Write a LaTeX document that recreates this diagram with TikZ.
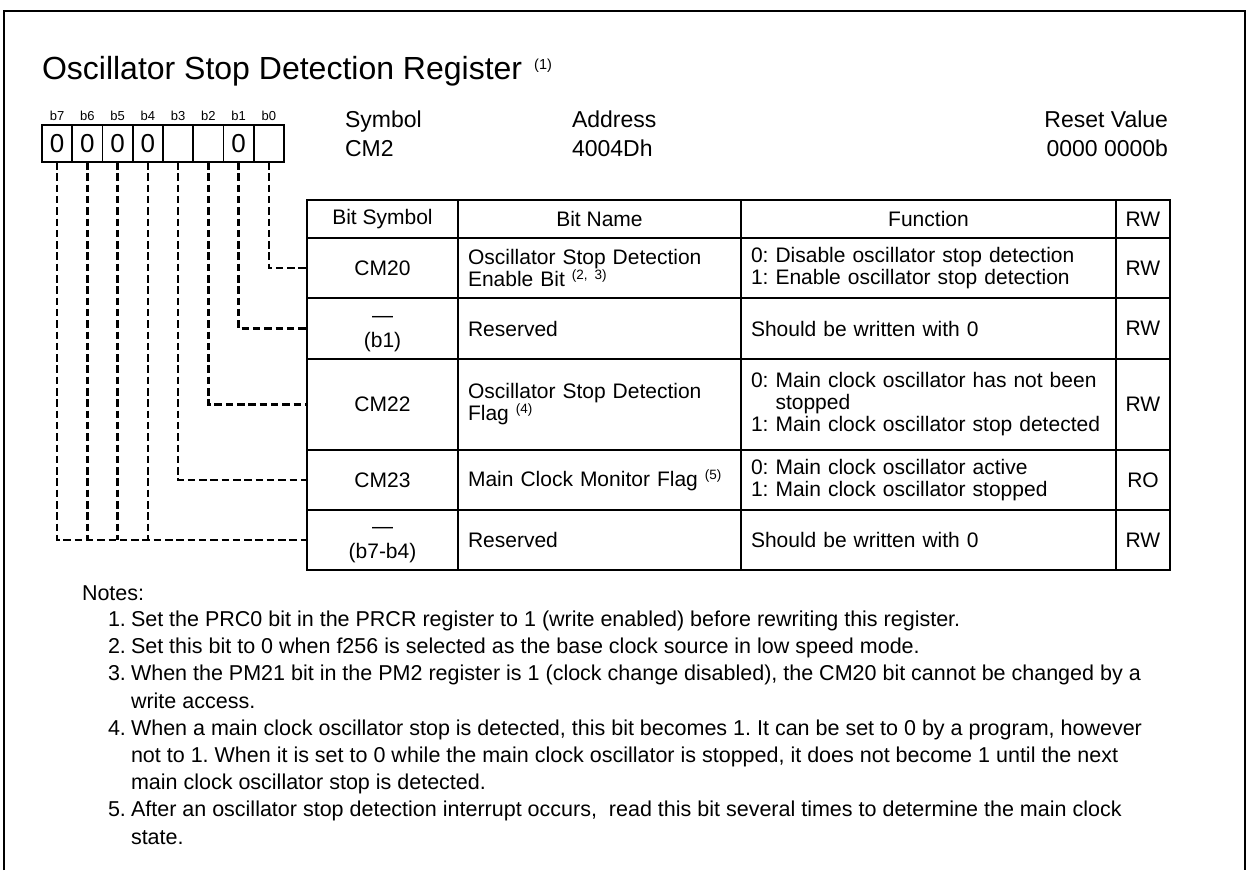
\documentclass[tikz,border=0pt]{standalone}
\usepackage{fontspec}
\setmainfont{Liberation Sans}
\frenchspacing
\newcommand{\supnote}[1]{\raisebox{7pt}{\fontsize{13.5}{13.5}\selectfont(#1)}}
\newcommand{\regrow}[7]{%
 \node[cellc,minimum width=151pt,minimum height=#3pt] (#1s) at (307,#2) {#4};
 \node[celll,minimum width=283pt,minimum height=#3pt,text width=263pt] (#1n) at (458,#2) {#5};
 \node[celll,minimum width=375pt,minimum height=#3pt,text width=355pt] (#1f) at (741,#2) {#6};
 \node[cellc,minimum width=54pt,minimum height=#3pt] (#1r) at (1116,#2) {#7};
}
\begin{document}
\begin{tikzpicture}[x=1pt,y=-1pt,
  every node/.style={inner sep=0pt,outer sep=0pt},
  txt/.style={font=\fontsize{21}{22}\selectfont},
  hdr/.style={font=\fontsize{23}{23}\selectfont},
  cellc/.style={draw,line width=1.8pt,anchor=north west,align=center,font=\fontsize{21}{22}\selectfont},
  celll/.style={draw,line width=1.8pt,anchor=north west,align=left,inner xsep=10pt,font=\fontsize{21}{22}\selectfont},
  bitcell/.style={draw,line width=1.8pt,anchor=north west,minimum width=30.25pt,minimum height=37pt,font=\fontsize{26}{26}\selectfont},
  bitlab/.style={anchor=base,font=\fontsize{13}{13}\selectfont},
  bus/.style={line width=2.5pt,dash pattern=on 7.5pt off 3.8pt},
  note/.style={anchor=base west,font=\fontsize{21.5}{27}\selectfont},
  frame/.style={line width=2.2pt}]
\useasboundingbox (0,0) rectangle (1252,870);
\draw[frame] (4,870) -- (4,11) -- (1245,11) -- (1245,870);

% title
\node[anchor=base west,font=\fontsize{32}{32}\selectfont] (title) at (42,79)
  {Oscillator Stop Detection Register\hspace{12pt}\raisebox{10pt}{\fontsize{14.5}{14.5}\selectfont(1)}};

% bit boxes
\foreach \i/\v [evaluate=\i as \xx using 42+(7-\i)*30.25] in {7/0,6/0,5/0,4/0,3/{},2/{},1/0,0/{}} {
  \node[bitcell] (c\i) at (\xx,125) {\v};
  \node[bitlab] (l\i) at (\xx+15.125,120) {b\i};
}

% header info
\node[hdr,anchor=base west] (symh) at (345,127) {Symbol};
\node[hdr,anchor=base west] (symv) at (345,156) {CM2};
\node[hdr,anchor=base west] (adrh) at (572,127) {Address};
\node[hdr,anchor=base west] (adrv) at (572,156) {4004Dh};
\node[hdr,anchor=base east] (rsth) at (1168,127) {Reset Value};
\node[hdr,anchor=base east] (rstv) at (1168,156) {0000 0000b};

% table
\node[cellc,minimum width=151pt,minimum height=38pt] (hs) at (307,200) {Bit Symbol};
\node[cellc,minimum width=283pt,minimum height=38pt] (hn) at (458,200) {Bit Name};
\node[cellc,minimum width=375pt,minimum height=38pt] (hf) at (741,200) {Function};
\node[cellc,minimum width=54pt,minimum height=38pt] (hr) at (1116,200) {RW};

\regrow{r1}{238}{60}{CM20}{Oscillator Stop Detection\\Enable Bit \supnote{2, 3}}{0: Disable oscillator stop detection\\1: Enable oscillator stop detection}{RW}
\regrow{r2}{298}{61}{}{Reserved}{Should be written with 0}{RW}
\regrow{r3}{359}{91}{CM22}{Oscillator Stop Detection\\Flag \supnote{4}}{0: Main clock oscillator has not been\\\hphantom{0: }stopped\\1: Main clock oscillator stop detected}{RW}
\regrow{r4}{450}{60}{CM23}{Main Clock Monitor Flag \supnote{5}}{0: Main clock oscillator active\\1: Main clock oscillator stopped}{RO}
\regrow{r5}{510}{60}{}{Reserved}{Should be written with 0}{RW}

\node[txt] (r2d) at ([yshift=-21pt]r2s.north) {—};
\node[txt] (r2b) at ([yshift=-44pt]r2s.north) {(b1)};
\node[txt] (r5d) at ([yshift=-20pt]r5s.north) {—};
\node[txt] (r5b) at ([yshift=-43pt]r5s.north) {(b7-b4)};

% connectors
\draw[bus] (c0.south) |- (r1s.west);
\draw[bus] (c1.south) |- (r2s.west);
\draw[bus] (c2.south) |- (r3s.west);
\draw[bus] (c3.south) |- (r4s.west);
\draw[bus] (c7.south) |- (r5s.west);
\foreach \i in {6,5,4} \draw[bus] (c\i.south) -- (c\i.south |- r5s.west);

% notes
\node[note] (notes) at (82,600) {Notes:};
\node[note] (n1) at (108,626) {1.};
\node[note] (n1a) at (131,626) {Set the PRC0 bit in the PRCR register to 1 (write enabled) before rewriting this register.};
\node[note] (n2) at (108,653) {2.};
\node[note] (n2a) at (131,653) {Set this bit to 0 when f256 is selected as the base clock source in low speed mode.};
\node[note] (n3) at (108,680) {3.};
\node[note] (n3a) at (131,680) {When the PM21 bit in the PM2 register is 1 (clock change disabled), the CM20 bit cannot be changed by a};
\node[note] (n3b) at (131,708) {write access.};
\node[note] (n4) at (108,735) {4.};
\node[note] (n4a) at (131,735) {When a main clock oscillator stop is detected, this bit becomes 1. It can be set to 0 by a program, however};
\node[note] (n4b) at (131,762) {not to 1. When it is set to 0 while the main clock oscillator is stopped, it does not become 1 until the next};
\node[note] (n4c) at (131,789) {main clock oscillator stop is detected.};
\node[note] (n5) at (108,816) {5.};
\node[note] (n5a) at (131,816) {After an oscillator stop detection interrupt occurs,\ \ read this bit several times to determine the main clock};
\node[note] (n5b) at (131,844) {state.};
\end{tikzpicture}
\end{document}
